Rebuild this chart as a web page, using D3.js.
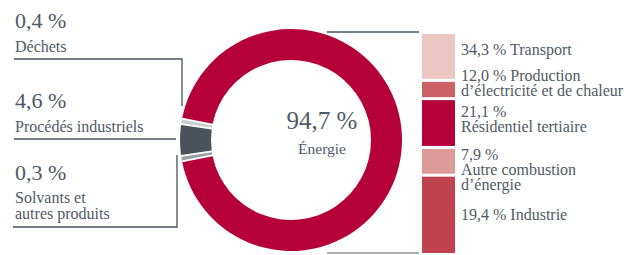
<!DOCTYPE html>
<html>
<head>
<meta charset="utf-8">
<script src="https://cdn.jsdelivr.net/npm/d3@7"></script>
<style>
  body { margin: 0; background: #fff; }
</style>
</head>
<body>
<svg id="chart"></svg>
<script>
const width = 633;
const height = 255;

// donut: sources of emissions
const sources = ["Déchets", "Procédés industriels", "Solvants et autres produits", "Énergie"];
const sourceValues = [0.4, 4.6, 0.3, 94.7];
const sourceLabels = ["0,4 %", "4,6 %", "0,3 %", "94,7 %"];

// bar: breakdown of energy
const energyCats = ["Transport", "Production d’électricité et de chaleur", "Résidentiel tertiaire", "Autre combustion d’énergie", "Industrie"];
const energyValues = [34.3, 12.0, 21.1, 7.9, 19.4];
const energyLabels = [
  ["34,3 % Transport"],
  ["12,0 % Production", "d’électricité et de chaleur"],
  ["21,1 %", "Résidentiel tertiaire"],
  ["7,9 %", "Autre combustion", "d’énergie"],
  ["19,4 % Industrie"]
];

const svg = d3.select("#chart")
    .attr("width", width)
    .attr("height", height)
    .style("font-family", "'Liberation Serif', 'Tinos', serif");

const textColor = "#505a64";
const cx = 291, cy = 140, outerR = 111, innerR = 80;

const sliceColor = {
  "Déchets": "#c8cdd0",
  "Procédés industriels": "#4a525b",
  "Solvants et autres produits": "#9aa0a5",
  "Énergie": "#b5003a"
};

// clockwise order starting from energy
const order = [3, 2, 1, 0];
const slices = order.map(i => ({ name: sources[i], value: sourceValues[i] }));

// small slices get a minimum visible width
const shown = d => Math.max(d.value, 0.8);
let pie = d3.pie().sort(null).value(shown);
let arcs0 = pie(slices);
const proc = arcs0.find(a => a.data.name === "Procédés industriels");
const shift = 1.5 * Math.PI - (proc.startAngle + proc.endAngle) / 2;
pie = pie.startAngle(shift).endAngle(shift + 2 * Math.PI);
const arcs = pie(slices);

const arc = d3.arc().innerRadius(innerR).outerRadius(outerR).padAngle(0.013);

const g = svg.append("g").attr("transform", `translate(${cx},${cy})`);
g.selectAll("path")
  .data(arcs)
  .join("path")
    .attr("d", arc)
    .attr("fill", d => sliceColor[d.data.name]);

function addText(x, y, size, str, anchor) {
  svg.append("text")
      .attr("x", x).attr("y", y)
      .attr("text-anchor", anchor || "start")
      .attr("font-size", size)
      .attr("fill", textColor)
      .text(str);
}

// centre label
addText(322, 129, 25, sourceLabels[3], "middle");
addText(322, 154, 15.5, sources[3], "middle");

// left labels
const leftText = [
  { pct: 28, lines: ["Déchets"], y0: 52 },
  { pct: 108, lines: ["Procédés industriels"], y0: 132 },
  { pct: 180, lines: ["Solvants et", "autres produits"], y0: 203 }
];
leftText.forEach((t, i) => {
  addText(15, t.pct, 22, sourceLabels[i]);
  t.lines.forEach((l, j) => addText(15, t.y0 + j * 16, 16, l));
});

// connectors
const line = d3.line();
const connectors = [
  { pts: [[14, 59], [182, 59], [182, 106]], color: "#4a525b" },
  { pts: [[14, 139], [176, 139]], color: "#4a525b" },
  { pts: [[13, 227], [177, 227], [177, 155]], color: "#4a525b" },
  { pts: [[327, 32], [419, 32]], color: "#4a525b" },
  { pts: [[327, 253], [419, 253]], color: "#8f959a" }
];
svg.append("g")
  .selectAll("path")
  .data(connectors)
  .join("path")
    .attr("d", d => line(d.pts))
    .attr("fill", "none")
    .attr("stroke", d => d.color)
    .attr("stroke-width", 1.3);

// stacked bar
const total = d3.sum(energyValues);
const y = d3.scaleLinear().domain([0, total]).range([253, 34]);
const barX = 422, barW = 33, gap = 3;
const segColors = ["#c0444f", "#dc9b98", "#b5003a", "#c96167", "#ecc6c3"];
let acc = 0;
const stack = energyValues.map((v, i) => {
  const s = { y0: acc, y1: acc + v, i };
  acc += v;
  return s;
});

svg.append("g")
  .selectAll("rect")
  .data(stack)
  .join("rect")
    .attr("x", barX)
    .attr("width", barW)
    .attr("y", d => y(d.y1) + (d.i === stack.length - 1 ? 0 : gap))
    .attr("height", d => y(d.y0) - y(d.y1) - (d.i === stack.length - 1 ? 0 : gap))
    .attr("fill", d => segColors[d.i]);

// bar labels, top down
const labelY = [55, 81, 117, 160, 220];
energyLabels.forEach((lines, i) => {
  lines.forEach((l, j) => addText(461, labelY[i] + j * 15, 16, l));
});
</script>
</body>
</html>
